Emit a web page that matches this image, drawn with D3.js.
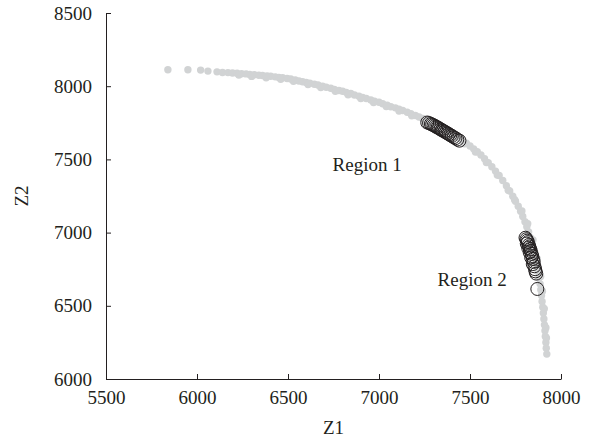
<!DOCTYPE html>
<html lang="en">
<head>
    <meta charset="UTF-8">
    <title>Z1 vs Z2 scatter</title>
    <script src="https://d3js.org/d3.v7.min.js"></script>
    <style>
        body { margin: 0; background: #fff; }
        svg text { font-family: "Liberation Serif", "Times New Roman", serif; fill: #231f20; }
    </style>
</head>
<body>
    <div id="chart"></div>
    <script>
        // axis ticks
        const xTicks = [5500, 6000, 6500, 7000, 7500, 8000];
        const yTicks = [6000, 6500, 7000, 7500, 8000, 8500];

        // all solutions (grey dots)
        const allZ1 = [5840, 5950, 6020, 6060, 6110, 6140, 6170, 6195, 6220, 6245, 6270, 6290, 6315, 6340, 6360,
            6385, 6405, 6430, 6450, 6470, 6495, 6515, 6540, 6560, 6580, 6600, 6620, 6645, 6665, 6690,
            6710, 6735, 6755, 6780, 6800, 6820, 6845, 6865, 6890, 6910, 6930, 6955, 6975, 7000, 7020,
            7045, 7065, 7090, 7110, 7130, 7155, 7175, 7200, 7220, 7240, 7260, 7280, 7300, 7320, 7340,
            7360, 7380, 7400, 7420, 7440, 7460, 7480, 7500, 7520, 7540, 7560, 7580, 7600, 7620, 7640,
            7660, 7680, 7700, 7718, 7735, 7750, 7765, 7778, 7790, 7802, 7812, 7822, 7832, 7840, 7848,
            7856, 7862, 7868, 7874, 7880, 7885, 7889, 7893, 7896, 7900, 7903, 7906, 7909, 7912, 7914,
            7917, 7919, 7922,
            6230, 6300, 6380, 6460, 6530, 6610, 6680, 6760, 6830, 6900, 6970, 7040, 7110, 7180, 7250,
            7330, 7390, 7470, 7530, 7590, 7650, 7710, 7745, 7785, 7817, 7846, 7870, 7888, 7898, 7908,
            7917, 7920];
        const allZ2 = [8112, 8112, 8110, 8103, 8098, 8094, 8093, 8090, 8089, 8085, 8084, 8080, 8078, 8075, 8073,
            8070, 8068, 8064, 8060, 8058, 8053, 8049, 8042, 8036, 8030, 8026, 8020, 8013, 8008, 8000,
            7993, 7986, 7978, 7971, 7966, 7958, 7950, 7940, 7932, 7924, 7916, 7906, 7898, 7890, 7880,
            7870, 7860, 7852, 7843, 7834, 7822, 7812, 7800, 7790, 7780, 7768, 7756, 7745, 7730, 7716,
            7703, 7690, 7676, 7660, 7644, 7628, 7610, 7592, 7572, 7552, 7530, 7505, 7478, 7450, 7420,
            7390, 7356, 7320, 7284, 7248, 7214, 7180, 7146, 7110, 7074, 7040, 7004, 6966, 6930, 6892,
            6852, 6812, 6772, 6732, 6692, 6650, 6610, 6570, 6530, 6490, 6450, 6410, 6370, 6330, 6290,
            6250, 6210, 6170,
            8076, 8067, 8058, 8047, 8033, 8011, 7991, 7965, 7942, 7916, 7888, 7861, 7831, 7798, 7762,
            7711, 7671, 7607, 7550, 7479, 7393, 7290, 7225, 7148, 7060, 6950, 6820, 6700, 6600, 6480,
            6350, 6280];

        // region 1 (open circles)
        const r1Z1 = [7265, 7275, 7285, 7292, 7300, 7308, 7315, 7322, 7330, 7338, 7345, 7352, 7360, 7368, 7376,
            7384, 7392, 7400, 7410, 7420, 7430, 7442];
        const r1Z2 = [7752, 7748, 7742, 7738, 7733, 7728, 7722, 7718, 7712, 7706, 7700, 7696, 7690, 7684, 7678,
            7672, 7666, 7660, 7652, 7645, 7636, 7628];

        // region 2 (open circles)
        const r2Z1 = [7805, 7810, 7814, 7818, 7812, 7822, 7826, 7820, 7830, 7834, 7828, 7838, 7842, 7836, 7846,
            7850, 7845, 7854, 7858, 7860, 7864, 7870];
        const r2Z2 = [6965, 6955, 6945, 6935, 6925, 6915, 6905, 6895, 6888, 6875, 6865, 6855, 6840, 6830, 6820,
            6800, 6785, 6770, 6750, 6735, 6720, 6615];

        const labels = [
            { text: "Region 1", z1: 6745, z2: 7420 },
            { text: "Region 2", z1: 7322, z2: 6635 }
        ];

        const width = 607, height = 442;
        const mLeft = 106, mRight = 561, mTop = 13, mBottom = 379;
        const ink = "#231f20";

        const svg = d3.select("#chart").append("svg")
            .attr("width", width)
            .attr("height", height);

        const x = d3.scaleLinear().domain([5500, 8000]).range([mLeft, mRight]);
        const y = d3.scaleLinear().domain([6000, 8500]).range([mBottom, mTop]);

        // grey points
        svg.append("g").selectAll("circle")
            .data(allZ1.map((d, i) => [d, allZ2[i]]))
            .join("circle")
            .attr("cx", d => x(d[0]))
            .attr("cy", d => y(d[1]))
            .attr("r", 3.7)
            .attr("fill", "#d1d3d4");

        // open circles for both regions
        const regionPts = r1Z1.map((d, i) => [d, r1Z2[i]])
            .concat(r2Z1.map((d, i) => [d, r2Z2[i]]));
        svg.append("g").selectAll("circle")
            .data(regionPts)
            .join("circle")
            .attr("cx", d => x(d[0]))
            .attr("cy", d => y(d[1]))
            .attr("r", 6.5)
            .attr("fill", "none")
            .attr("stroke", ink)
            .attr("stroke-width", 1);

        // x axis, ticks pointing up
        const xAxis = svg.append("g")
            .attr("transform", `translate(0,${mBottom})`)
            .call(d3.axisBottom(x).tickValues(xTicks).tickFormat(d3.format("d"))
                .tickSizeInner(-5).tickSizeOuter(0).tickPadding(8));
        // y axis, ticks pointing right
        const yAxis = svg.append("g")
            .attr("transform", `translate(${mLeft},0)`)
            .call(d3.axisLeft(y).tickValues(yTicks).tickFormat(d3.format("d"))
                .tickSizeInner(-5).tickSizeOuter(0).tickPadding(14));

        [xAxis, yAxis].forEach(g => {
            g.select(".domain").attr("stroke", ink);
            g.selectAll(".tick line").attr("stroke", ink);
            g.selectAll(".tick text")
                .attr("font-size", 19)
                .attr("fill", ink);
        });
        xAxis.selectAll(".tick text").attr("dy", "0.9em");

        // axis titles
        svg.append("text")
            .attr("x", (mLeft + mRight) / 2)
            .attr("y", 434)
            .attr("text-anchor", "middle")
            .attr("font-size", 19)
            .text("Z1");

        svg.append("text")
            .attr("transform", `translate(28,${(mTop + mBottom) / 2}) rotate(-90)`)
            .attr("text-anchor", "middle")
            .attr("font-size", 19)
            .text("Z2");

        // region labels
        svg.append("g").selectAll("text")
            .data(labels)
            .join("text")
            .attr("x", d => x(d.z1))
            .attr("y", d => y(d.z2))
            .attr("font-size", 19)
            .text(d => d.text);
    </script>
</body>
</html>
